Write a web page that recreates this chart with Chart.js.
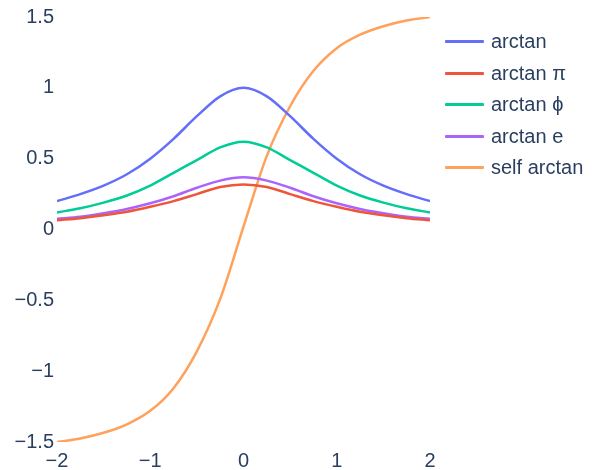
<!DOCTYPE html>
<html>
<head>
<meta charset="utf-8">
<script src="https://cdn.jsdelivr.net/npm/chart.js@4"></script>
<style>
  html, body { margin: 0; padding: 0; background: #fff; }
  #wrap { position: relative; width: 596px; height: 470px; }
  #legend { position: absolute; left: 445px; top: 26px; font-family: "Liberation Sans", Arial, sans-serif; font-size: 20px; color: #2a3f5f; }
  .item { display: flex; align-items: center; height: 31.5px; white-space: nowrap; }
  .swatch { width: 39px; height: 3px; margin-right: 7px; border-radius: 1px; }
</style>
</head>
<body>
<div id="wrap">
  <canvas id="c" width="596" height="470"></canvas>
  <div id="legend"></div>
</div>
<script>
const xValues = [-2, -1.75, -1.5, -1.25, -1, -0.75, -0.5, -0.25, 0, 0.25, 0.5, 0.75, 1, 1.25, 1.5, 1.75, 2];
const arctan     = [0.2, 0.25, 0.31, 0.39, 0.5, 0.64, 0.8, 0.94, 1.0, 0.94, 0.8, 0.64, 0.5, 0.39, 0.31, 0.25, 0.2];
const arctanPi   = [0.065, 0.08, 0.1, 0.125, 0.16, 0.2, 0.25, 0.3, 0.318, 0.3, 0.25, 0.2, 0.16, 0.125, 0.1, 0.08, 0.065];
const arctanPhi  = [0.12, 0.15, 0.19, 0.24, 0.31, 0.4, 0.49, 0.58, 0.62, 0.58, 0.49, 0.4, 0.31, 0.24, 0.19, 0.15, 0.12];
const arctanE    = [0.075, 0.09, 0.115, 0.145, 0.185, 0.235, 0.295, 0.345, 0.368, 0.345, 0.295, 0.235, 0.185, 0.145, 0.115, 0.09, 0.075];
const selfArctan = [-1.5, -1.475, -1.435, -1.375, -1.28, -1.12, -0.86, -0.49, 0.02, 0.52, 0.87, 1.12, 1.28, 1.375, 1.435, 1.475, 1.5];

const seriesNames  = ["arctan", "arctan \u03C0", "arctan \u03D5", "arctan e", "self arctan"];
const seriesValues = [arctan, arctanPi, arctanPhi, arctanE, selfArctan];
const seriesColors = ["#636efa", "#EF553B", "#00cc96", "#ab63fa", "#FFA15A"];
const xTicks = [-2, -1, 0, 1, 2];
const yTicks = [-1.5, -1, -0.5, 0, 0.5, 1, 1.5];

const fontFamily = '"Liberation Sans", Arial, sans-serif';
const fmt = v => (v < 0 ? "\u2212" + String(-v) : String(v));

const datasets = seriesNames.map((name, i) => ({
  label: name,
  data: xValues.map((x, j) => ({ x: x, y: seriesValues[i][j] })),
  borderColor: seriesColors[i],
  backgroundColor: seriesColors[i],
  borderWidth: 2.5,
  pointRadius: 0,
  cubicInterpolationMode: "monotone",
  fill: false
}));

new Chart(document.getElementById("c"), {
  type: "line",
  data: { datasets: datasets },
  options: {
    responsive: false,
    animation: false,
    layout: { padding: { top: 17, right: 166, left: 0, bottom: 0 } },
    plugins: { legend: { display: false }, tooltip: { enabled: false } },
    scales: {
      x: {
        type: "linear", min: -2, max: 2,
        grid: { display: false, drawTicks: false },
        border: { display: false },
        afterBuildTicks: s => { s.ticks = xTicks.map(v => ({ value: v })); },
        afterFit: s => { s.height = 28; },
        ticks: { color: "#2a3f5f", font: { family: fontFamily, size: 20 }, padding: 7, maxRotation: 0, callback: v => fmt(v) }
      },
      y: {
        type: "linear", min: -1.5, max: 1.5,
        grid: { display: false, drawTicks: false },
        border: { display: false },
        afterBuildTicks: s => { s.ticks = yTicks.map(v => ({ value: v })); },
        afterFit: s => { s.width = 57; },
        ticks: { color: "#2a3f5f", font: { family: fontFamily, size: 20 }, padding: 3, callback: v => fmt(v) }
      }
    }
  }
});

const legend = document.getElementById("legend");
seriesNames.forEach((name, i) => {
  const item = document.createElement("div");
  item.className = "item";
  const sw = document.createElement("div");
  sw.className = "swatch";
  sw.style.background = seriesColors[i];
  const t = document.createElement("span");
  t.textContent = name;
  item.appendChild(sw);
  item.appendChild(t);
  legend.appendChild(item);
});
</script>
</body>
</html>
